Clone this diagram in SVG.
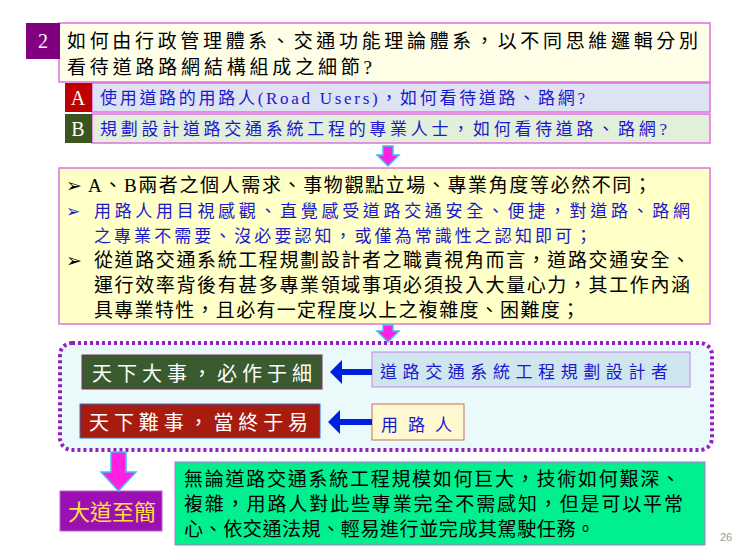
<svg xmlns="http://www.w3.org/2000/svg" width="740" height="555" viewBox="0 0 740 555">
<style>
text{font-family:"Liberation Serif","Noto Sans CJK TC",serif}
.t{font-size:19px;fill:#000}
.b{font-size:17px;fill:#1a1acc}
.w{font-size:20px;fill:#fff}
.pk{stroke:#e070e0;stroke-width:1.5}
</style>
<defs>
<marker id="ah" markerWidth="4" markerHeight="4" refX="1" refY="2" orient="auto" markerUnits="strokeWidth"><path d="M0,0 L2,2 L0,4z" fill="#0020e0"/></marker>
</defs>
<rect width="740" height="555" fill="#fff"/>
<g id="title">
<rect x="59" y="23" width="651" height="59" fill="#ffffe8" class="pk"/>
<rect x="26" y="23" width="34" height="36" fill="#800080"/>
<text x="43" y="48" class="w" text-anchor="middle">2</text>
<text x="67" y="48" class="t" font-size="21" textLength="631" lengthAdjust="spacing">如何由行政管理體系、交通功能理論體系，以不同思維邏輯分別</text>
<text x="67" y="74" class="t" font-size="21" textLength="305" lengthAdjust="spacing">看待道路路網結構組成之細節?</text>
</g>
<g id="A">
<rect x="92" y="83" width="618" height="29" fill="#dde3f3" class="pk"/>
<rect x="65" y="83" width="27" height="29" fill="#c00000"/>
<text x="78" y="105" class="w" font-size="18" text-anchor="middle">A</text>
<text x="100" y="104" class="b" font-size="19" textLength="485" lengthAdjust="spacing">使用道路的用路人(Road Users)，如何看待道路、路網?</text>
</g>
<g id="B">
<rect x="92" y="114" width="618" height="29" fill="#e2efda" class="pk"/>
<rect x="65" y="114" width="27" height="29" fill="#3a5520"/>
<text x="78" y="136" class="w" font-size="18" text-anchor="middle">B</text>
<text x="100" y="135" class="b" font-size="19" textLength="567" lengthAdjust="spacing">規劃設計道路交通系統工程的專業人士，如何看待道路、路網?</text>
</g>
<g id="mid">
<rect x="59" y="168" width="651" height="156" fill="#ffffc8" class="pk"/>
<text x="66" y="192" class="t" font-size="15">➢</text>
<text x="66" y="217" class="b" font-size="15">➢</text>
<text x="66" y="267" class="t" font-size="15">➢</text>
<text x="88" y="192" class="t" font-size="18" textLength="564" lengthAdjust="spacing">A、B兩者之個人需求、事物觀點立場、專業角度等必然不同；</text>
<text x="94" y="217" class="b" font-size="18" textLength="596" lengthAdjust="spacing">用路人用目視感觀、直覺感受道路交通安全、便捷，對道路、路網</text>
<text x="94" y="242" class="b" font-size="18" textLength="498" lengthAdjust="spacing">之專業不需要、沒必要認知，或僅為常識性之認知即可；</text>
<text x="94" y="267" class="t" font-size="18" textLength="596" lengthAdjust="spacing">從道路交通系統工程規劃設計者之職責視角而言，道路交通安全、</text>
<text x="94" y="292" class="t" font-size="18" textLength="596" lengthAdjust="spacing">運行效率背後有甚多專業領域事項必須投入大量心力，其工作內涵</text>
<text x="94" y="317" class="t" font-size="18" textLength="486" lengthAdjust="spacing">具專業特性，且必有一定程度以上之複雜度、困難度；</text>
</g>
<g id="group">
<rect x="60" y="343" width="652" height="107" rx="12" fill="#eafafa" stroke="#9020c0" stroke-width="4" stroke-dasharray="3,3"/>
</g>
<g id="n1"><rect x="82" y="355" width="240" height="34" fill="#3a5a30" stroke="#803050"/><text x="92" y="381" class="w" font-size="22" textLength="220" lengthAdjust="spacing">天下大事，必作于細</text></g>
<g id="n2"><rect x="80" y="404" width="240" height="34" fill="#a81c10" stroke="#3070d0"/><text x="89" y="430" class="w" font-size="22" textLength="219" lengthAdjust="spacing">天下難事，當終于易</text></g>
<g id="n3"><rect x="372" y="352" width="318" height="35" fill="#cfe6ef" stroke="#d080e0"/><text x="380" y="378" class="b" font-size="22" textLength="288" lengthAdjust="spacing">道路交通系統工程規劃設計者</text></g>
<g id="n4"><rect x="372" y="404" width="92" height="36" fill="#fff8d0" stroke="#c07050"/><text x="381" y="431" class="b" font-size="22" textLength="71" lengthAdjust="spacing">用路人</text></g>
<g id="n5"><rect x="60" y="491" width="102" height="40" fill="#9a10b0" stroke="#c060d0"/><text x="68" y="520" font-size="22" fill="#ffe040" textLength="88" lengthAdjust="spacing">大道至簡</text></g>
<g id="n6"><rect x="175" y="462" width="530" height="83" fill="#00f090" stroke="#d060e0"/>
<text x="184" y="486" class="t" font-size="18" textLength="496" lengthAdjust="spacing">無論道路交通系統工程規模如何巨大，技術如何艱深、</text>
<text x="184" y="511" class="t" font-size="18" textLength="499" lengthAdjust="spacing">複雜，用路人對此些專業完全不需感知，但是可以平常</text>
<text x="184" y="536" class="t" font-size="18" textLength="411" lengthAdjust="spacing">心、依交通法規、輕易進行並完成其駕駛任務。</text></g>
<g id="connectors">
<path d="M383,146 h10 v9 h6 l-11,11 l-11,-11 h6z" fill="#ff20e0" stroke="#40c0f0" stroke-width="1.5"/>
<path d="M383,325 h10 v6 h6 l-11,11 l-11,-11 h6z" fill="#ff20e0" stroke="#40c0f0" stroke-width="1.5"/>
<path d="M111,452 h15 v20 h10 l-17.5,19 l-17.5,-19 h10z" fill="#ff20e0" stroke="#40c0f0" stroke-width="1.5"/>
<line x1="372" y1="372" x2="336" y2="372" stroke="#0020e0" stroke-width="6" marker-end="url(#ah)"/>
<line x1="372" y1="422" x2="334" y2="422" stroke="#0020e0" stroke-width="6" marker-end="url(#ah)"/>
</g>
<text x="720" y="541" font-size="11" fill="#999" style="font-family:'Liberation Sans',sans-serif">26</text>
</svg>
